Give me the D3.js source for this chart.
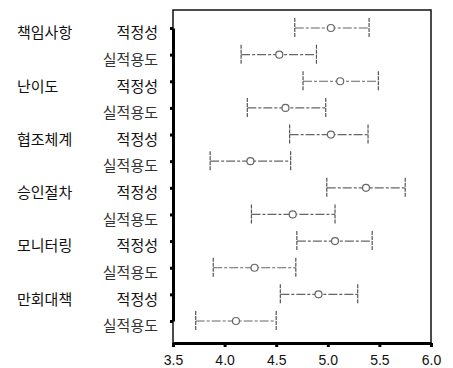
<!DOCTYPE html>
<html>
<head>
<meta charset="utf-8">
<script src="https://cdn.jsdelivr.net/npm/d3@7"></script>
<style>
  body { margin: 0; background: #fff; }
  svg { display: block; }
</style>
</head>
<body>
<div id="graph"></div>
<script>
// rows, top to bottom
const groups = ["책임사항", "난이도", "협조체계", "승인절차", "모니터링", "만회대책"];
const measures = ["적정성", "실적용도"];
const means = [5.03, 4.53, 5.12, 4.59, 5.03, 4.25, 5.37, 4.66, 5.07, 4.29, 4.91, 4.11];
const lower = [4.68, 4.16, 4.76, 4.22, 4.63, 3.86, 4.99, 4.26, 4.70, 3.89, 4.54, 3.72];
const upper = [5.40, 4.89, 5.49, 4.98, 5.39, 4.64, 5.75, 5.07, 5.43, 4.69, 5.29, 4.50];
const xTicks = [3.5, 4.0, 4.5, 5.0, 5.5, 6.0];

const width = 453, height = 368;
const margins = { top: 10, right: 22, bottom: 25, left: 173 };

const rows = [];
groups.forEach(function(g) {
    measures.forEach(function(m) { rows.push(g + "|" + m); });
});

const xScale = d3.scaleLinear()
    .domain([3.5, 6.0])
    .range([margins.left, width - margins.right]);

const yScale = d3.scalePoint()
    .domain(rows)
    .range([28, 321]);

const svg = d3.select("#graph").append("svg")
    .attr("width", width)
    .attr("height", height);

// frame
svg.append("rect")
    .attr("x", margins.left)
    .attr("y", margins.top)
    .attr("width", width - margins.right - margins.left)
    .attr("height", height - margins.bottom - margins.top)
    .attr("fill", "none")
    .attr("stroke", "#111")
    .attr("stroke-width", 1.5);

// error bars
const bars = svg.selectAll(".bar")
    .data(rows)
    .enter().append("g")
    .attr("class", "bar");

bars.append("line")
    .attr("x1", (d, i) => xScale(lower[i]))
    .attr("x2", (d, i) => xScale(upper[i]))
    .attr("y1", d => yScale(d))
    .attr("y2", d => yScale(d))
    .attr("stroke", "#666")
    .attr("stroke-width", 1.2)
    .attr("stroke-dasharray", "9,2,3,2");

bars.selectAll(".cap")
    .data((d, i) => [lower[i], upper[i]].map(v => ({ v: v, y: yScale(d) })))
    .enter().append("line")
    .attr("class", "cap")
    .attr("x1", d => xScale(d.v))
    .attr("x2", d => xScale(d.v))
    .attr("y1", d => d.y - 10)
    .attr("y2", d => d.y + 10)
    .attr("stroke", "#555")
    .attr("stroke-width", 1.2)
    .attr("stroke-dasharray", "4,1");

bars.append("circle")
    .attr("cx", (d, i) => xScale(means[i]))
    .attr("cy", d => yScale(d))
    .attr("r", 3.5)
    .attr("fill", "#fff")
    .attr("stroke", "#666")
    .attr("stroke-width", 1.2);

// X-axis
const xAxis = svg.append("g")
    .attr("transform", "translate(0," + (height - margins.bottom) + ")")
    .call(d3.axisBottom(xScale).tickValues(xTicks).tickFormat(d3.format(".1f")).tickSize(4).tickSizeOuter(0));
xAxis.select(".domain").attr("stroke", "#000").attr("stroke-width", 3);
xAxis.selectAll(".tick line").attr("stroke", "#000").attr("stroke-width", 3);
xAxis.selectAll(".tick text")
    .attr("y", 12)
    .style("font-family", "'Liberation Sans Narrow', 'Liberation Sans', Arial, sans-serif")
    .style("font-size", "14px")
    .attr("fill", "#111");

// Y-axis (ticks only, labels drawn separately)
const yAxis = svg.append("g")
    .attr("transform", "translate(" + margins.left + ",0)")
    .call(d3.axisLeft(yScale).tickSize(3).tickFormat("").tickSizeOuter(0));
yAxis.select(".domain").attr("stroke", "#000").attr("stroke-width", 3);
yAxis.selectAll(".tick line").attr("stroke", "#000").attr("stroke-width", 3);

// labels
const labelFont = "'Noto Sans CJK KR', sans-serif";
svg.selectAll(".mlabel")
    .data(rows)
    .enter().append("text")
    .attr("class", "mlabel")
    .attr("x", 158)
    .attr("y", d => yScale(d) + 5)
    .attr("dy", ".35em")
    .style("text-anchor", "end")
    .style("font-family", labelFont)
    .style("font-size", "15px")
    .attr("fill", (d, i) => i % 2 === 0 ? "#111" : "#333")
    .text(d => d.split("|")[1]);

svg.selectAll(".glabel")
    .data(groups)
    .enter().append("text")
    .attr("class", "glabel")
    .attr("x", 17)
    .attr("y", d => yScale(d + "|" + measures[0]) + 5)
    .attr("dy", ".35em")
    .style("font-family", labelFont)
    .style("font-size", "15px")
    .attr("fill", "#111")
    .text(d => d);
</script>
</body>
</html>
